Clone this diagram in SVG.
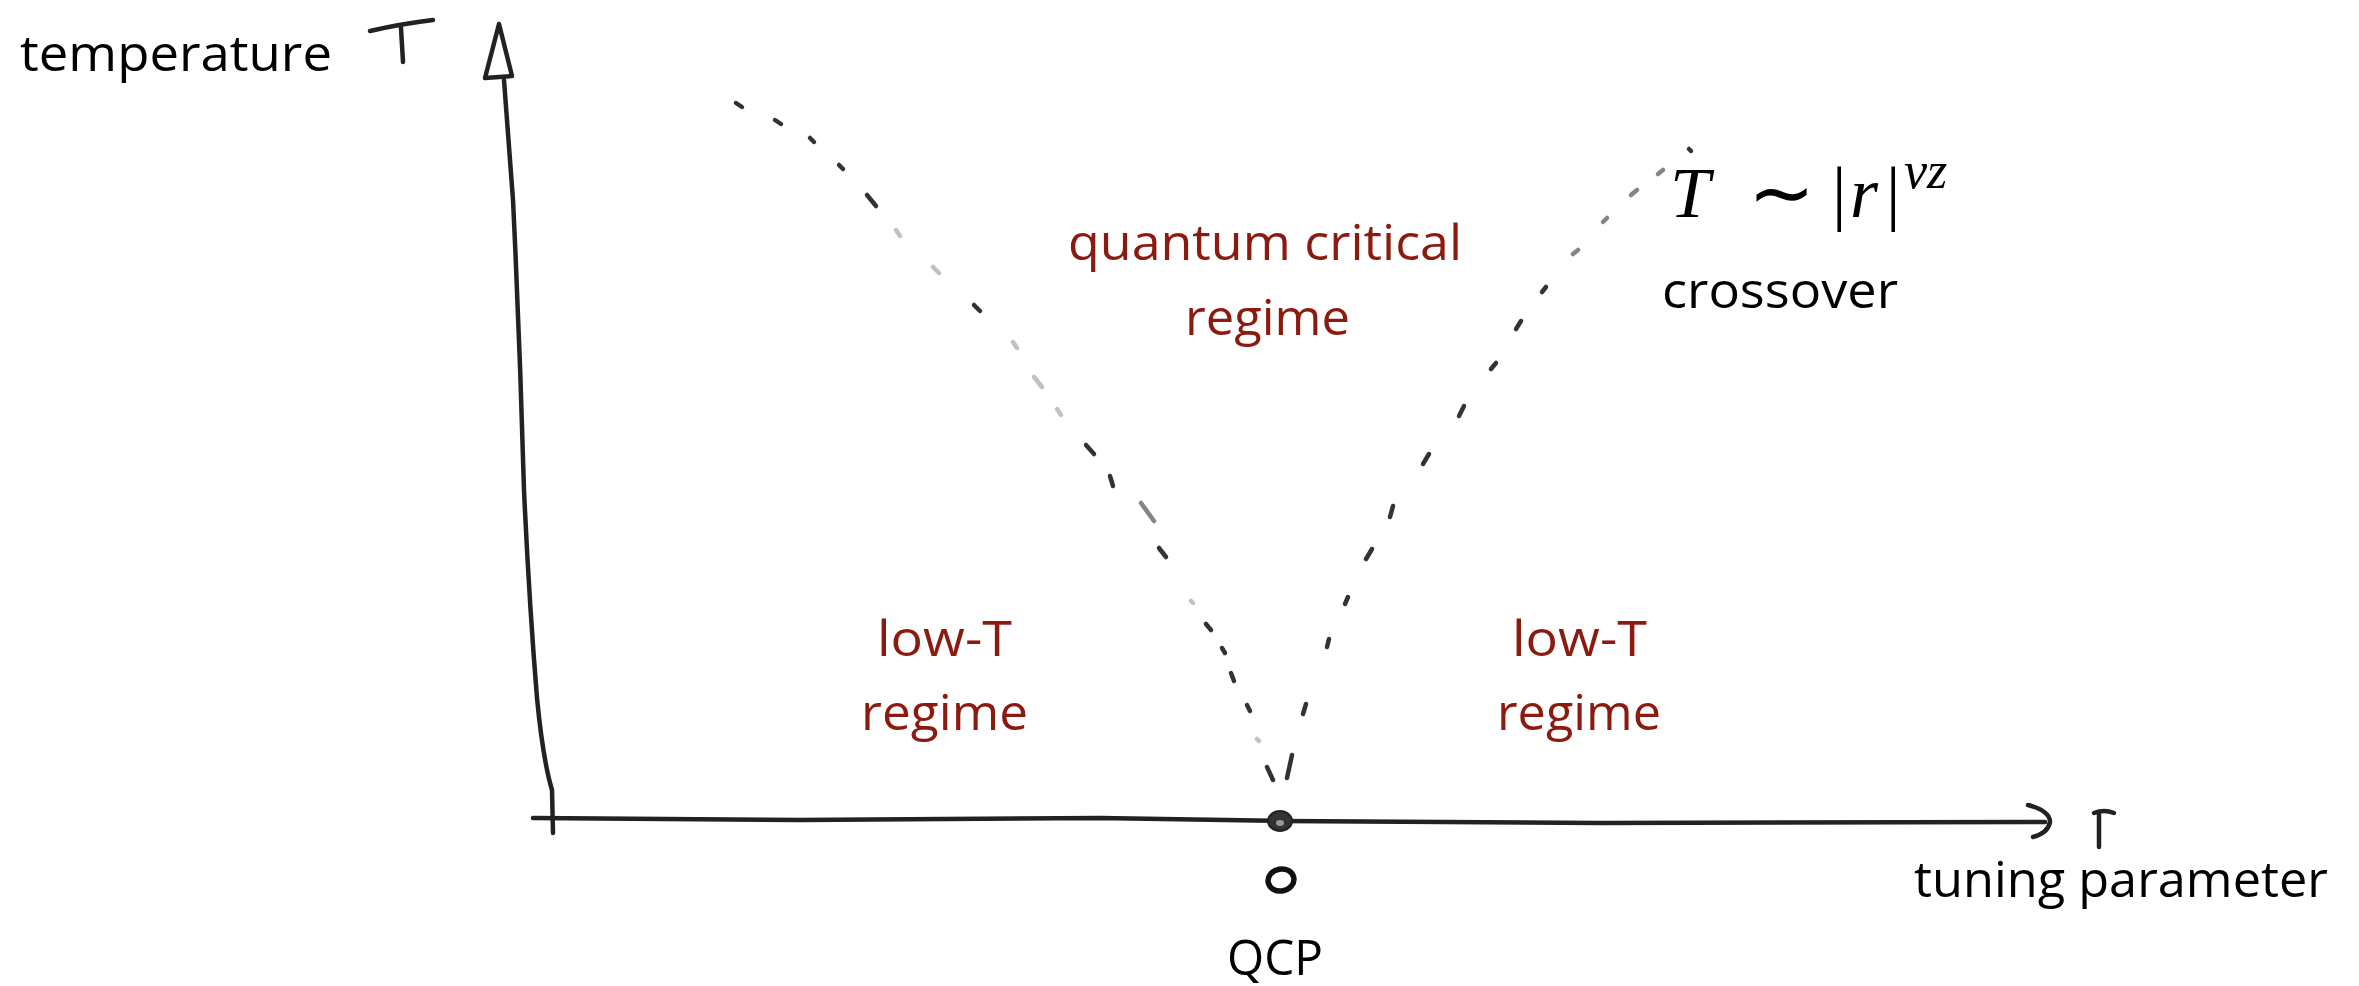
<svg xmlns="http://www.w3.org/2000/svg" width="2359" height="986" viewBox="0 0 2359 986">
<style>
  .lbl { font-family: "Open Sans", "Liberation Sans", sans-serif; font-size: 50px; fill: #000; }
  .red { fill: #8b1a0f; }
  .math { font-family: "Liberation Serif", serif; fill: #000; }
  .hand { fill: none; stroke: #222; stroke-width: 4.5; stroke-linecap: round; stroke-linejoin: round; }
  .dash { fill: none; stroke: #333; stroke-width: 4.5; stroke-linecap: round; }
  .faint { opacity: 0.3; }
  .mid { opacity: 0.6; }
</style>
<rect width="2359" height="986" fill="#fff"/>

<g id="axes">
  <!-- vertical T axis -->
  <path class="hand" d="M499,24 L485,78 L512,76 Z"/>
  <path class="hand" d="M504,80 L513,200 Q520,345 524,490 Q529,600 537,698 Q543,760 552,790 L553,833"/>
  <!-- horizontal r axis -->
  <path class="hand" stroke-width="5.5" d="M533,818 L800,820 L1100,818 L1280,821 L1600,823 L2045,822"/>
  <path class="hand" stroke-width="5.5" d="M2028,805 Q2050,811 2050,822 Q2048,833 2033,837"/>
  <!-- hand-written axis symbols -->
  <path class="hand" stroke-width="5" d="M370,31 Q400,24 433,20 M401,28 L403,62"/>
  <path class="hand" stroke-width="5" d="M2099,813 L2099,847 M2094,813 Q2104,809 2114,813"/>
  <!-- QCP point and zero -->
  <ellipse cx="1280" cy="821" rx="12" ry="10" fill="#333" stroke="#222" stroke-width="2"/>
  <ellipse cx="1280" cy="823" rx="4" ry="3" fill="#999"/>
  <ellipse cx="1281" cy="880" rx="13" ry="11" fill="none" stroke="#111" stroke-width="5.5" transform="rotate(-10 1281 880)"/>
</g>

<g id="connectors">
  <g id="left-crossover">
    <path class="dash" d="M736,103 L742,107"/>
    <path class="dash" d="M775,120 L781,124"/>
    <path class="dash" d="M810,138 L814,142"/>
    <path class="dash" d="M839,165 L843,169"/>
    <path class="dash" d="M867,195 L876,206"/>
    <path class="dash faint" d="M896,230 L900,236"/>
    <path class="dash faint" d="M933,267 L939,273"/>
    <path class="dash" d="M974,305 L980,311"/>
    <path class="dash faint" d="M1013,342 L1017,348"/>
    <path class="dash faint" d="M1034,377 L1042,387"/>
    <path class="dash faint" d="M1057,409 L1061,415"/>
    <path class="dash" d="M1086,445 L1094,454"/>
    <path class="dash" d="M1110,476 L1113,486"/>
    <path class="dash mid" d="M1141,503 L1154,521"/>
    <path class="dash" d="M1159,548 L1166,557"/>
    <path class="dash faint" d="M1191,601 L1193,603"/>
    <path class="dash" d="M1206,624 L1211,630"/>
    <path class="dash" d="M1222,648 L1225,653"/>
    <path class="dash" d="M1231,673 L1234,681"/>
    <path class="dash" d="M1247,705 L1250,711"/>
    <path class="dash faint" d="M1257,739 L1259,741"/>
    <path class="dash" stroke-width="5.5" d="M1267,767 L1273,780"/>
  </g>
  <g id="right-crossover">
    <path class="dash" stroke-width="5.5" d="M1292,755 L1287,778"/>
    <path class="dash" d="M1306,704 L1303,714"/>
    <path class="dash" d="M1329,639 L1327,647"/>
    <path class="dash" d="M1348,597 L1345,604"/>
    <path class="dash" d="M1372,549 L1366,559"/>
    <path class="dash" d="M1393,506 L1390,517"/>
    <path class="dash" d="M1429,454 L1423,464"/>
    <path class="dash" d="M1464,406 L1459,416"/>
    <path class="dash" d="M1496,363 L1491,369"/>
    <path class="dash" d="M1521,321 L1516,329"/>
    <path class="dash" d="M1546,287 L1542,292"/>
    <path class="dash mid" d="M1578,250 L1573,254"/>
    <path class="dash mid" d="M1607,218 L1603,222"/>
    <path class="dash mid" d="M1637,190 L1631,195"/>
    <path class="dash mid" d="M1663,170 L1658,174"/>
    <path class="dash" d="M1689,149 L1691,151"/>
  </g>
</g>

<g id="label-temperature"><text class="lbl" x="20" y="71" textLength="312" lengthAdjust="spacingAndGlyphs">temperature</text></g>
<g id="label-qc">
  <text class="lbl red" x="1068" y="260" textLength="394" lengthAdjust="spacingAndGlyphs">quantum critical</text>
  <text class="lbl red" x="1185" y="335" textLength="165" lengthAdjust="spacingAndGlyphs">regime</text>
</g>
<g id="label-lowT-left">
  <text class="lbl red" x="877" y="656" textLength="135" lengthAdjust="spacingAndGlyphs">low-T</text>
  <text class="lbl red" x="861" y="730" textLength="167" lengthAdjust="spacingAndGlyphs">regime</text>
</g>
<g id="label-lowT-right">
  <text class="lbl red" x="1512" y="656" textLength="135" lengthAdjust="spacingAndGlyphs">low-T</text>
  <text class="lbl red" x="1497" y="730" textLength="164" lengthAdjust="spacingAndGlyphs">regime</text>
</g>
<g id="label-formula">
  <text class="math" font-size="72" y="217"><tspan x="1670" font-style="italic">T</tspan><tspan x="1748" font-size="80" y="220">∼</tspan><tspan x="1832" y="217">|</tspan><tspan x="1850" font-style="italic">r</tspan><tspan x="1886">|</tspan><tspan x="1904" y="188" font-size="52" font-style="italic">νz</tspan></text>
</g>
<g id="label-crossover"><text class="lbl" x="1662" y="308" textLength="236" lengthAdjust="spacingAndGlyphs">crossover</text></g>
<g id="label-tuning"><text class="lbl" x="1914" y="897" textLength="414" lengthAdjust="spacingAndGlyphs">tuning parameter</text></g>
<g id="label-qcp"><text class="lbl" x="1227" y="975" textLength="96" lengthAdjust="spacingAndGlyphs">QCP</text></g>
</svg>
